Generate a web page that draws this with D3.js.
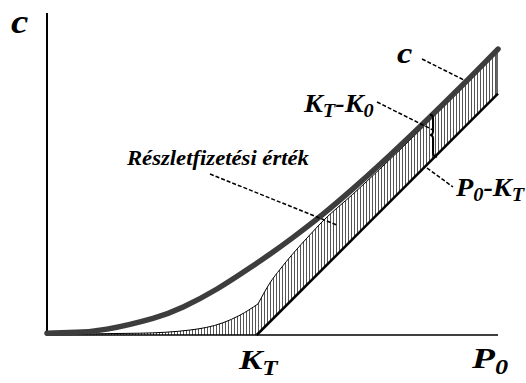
<!DOCTYPE html>
<html>
<head>
<meta charset="utf-8">
<script src="https://cdn.jsdelivr.net/npm/d3@7"></script>
<style>
  body { margin: 0; background: #fff; }
  text { font-family: "Liberation Serif", "Times New Roman", serif; font-weight: bold; font-style: italic; fill: #000; }
</style>
</head>
<body>
<div id="chart"></div>
<script>
// option value (c) against share price (P0), strike K_T
const strike = 46.5;
const priceMax = 100;

const callP = [0, 6.5, 13.3, 23.5, 30.2, 37.7, 45.0, 49.4, 54.5, 61.2, 67.8, 73.8, 82.7, 92.2, 100];
const callC = [0.4, 0.6, 1.3, 3.7, 6.2, 10.2, 14.9, 17.9, 21.6, 26.8, 32.4, 37.8, 46.2, 55.5, 63.4];

// "Részletfizetési érték" curve, with a kink at kinkIdx
const instP = [0, 20.6, 31.7, 39.0, 42.8, 46.8, 48.1, 49.4, 51.7, 54.5, 58.1, 61.2, 67.8, 73.8, 82.7, 92.2, 100];
const instV = [0.2, 0.4, 1.1, 2.7, 4.4, 6.9, 9.3, 11.5, 14.6, 18.0, 22.0, 25.3, 31.2, 36.8, 45.4, 55.1, 63.0];
const kinkIdx = 5;

const braceP = 85.6;

const width = 526, height = 383;
const x = d3.scaleLinear().domain([0, priceMax]).range([47, 498]);
const y = d3.scaleLinear().domain([0, 71.4]).range([335, 13]);

const svg = d3.select("#chart").append("svg")
  .attr("width", width)
  .attr("height", height);

const defs = svg.append("defs");
const pat = defs.append("pattern")
  .attr("id", "hatch")
  .attr("patternUnits", "userSpaceOnUse")
  .attr("width", 3).attr("height", 10);
pat.append("rect").attr("width", 3).attr("height", 10).attr("fill", "#fff");
pat.append("line")
  .attr("x1", 0.5).attr("x2", 0.5).attr("y1", 0).attr("y2", 10)
  .attr("stroke", "#555").attr("stroke-width", 1);

// clip: everything above the intrinsic value line
const clipPts = [[0, 0], [strike, 0], [priceMax, priceMax - strike], [priceMax, 71.4], [0, 71.4]];
defs.append("clipPath").attr("id", "above")
  .append("path")
  .attr("d", "M" + clipPts.map(p => [x(p[0]), y(p[1])].join(",")).join("L") + "Z");

const inst = instP.map((p, i) => [p, instV[i]]);
const instParts = [inst.slice(0, kinkIdx + 1), inst.slice(kinkIdx)];
const call = callP.map((p, i) => [p, callC[i]]);

const area = d3.area().x(d => x(d[0])).y0(y(0)).y1(d => y(d[1])).curve(d3.curveMonotoneX);
const line = d3.line().x(d => x(d[0])).y(d => y(d[1])).curve(d3.curveMonotoneX);

svg.selectAll(".band")
  .data(instParts)
  .enter().append("path")
  .attr("class", "band")
  .attr("clip-path", "url(#above)")
  .attr("fill", "url(#hatch)")
  .attr("d", area);

svg.selectAll(".inst")
  .data(instParts)
  .enter().append("path")
  .attr("class", "inst")
  .attr("fill", "none")
  .attr("stroke", "#000")
  .attr("stroke-width", 1)
  .attr("d", line);

// right edge of hatched band
svg.append("line")
  .attr("x1", x(priceMax) - 1).attr("x2", x(priceMax) - 1)
  .attr("y1", y(instV[instV.length - 1])).attr("y2", y(priceMax - strike))
  .attr("stroke", "#000").attr("stroke-width", 1.2);

// axes
svg.append("line")
  .attr("x1", x(0)).attr("x2", x(priceMax)).attr("y1", y(0)).attr("y2", y(0))
  .attr("stroke", "#000").attr("stroke-width", 1.5);
svg.append("line")
  .attr("x1", x(0)).attr("x2", x(0)).attr("y1", y(0) + 1).attr("y2", y(71.4))
  .attr("stroke", "#000").attr("stroke-width", 2);

// intrinsic value P0 - K_T
svg.append("line")
  .attr("x1", x(strike)).attr("y1", y(0))
  .attr("x2", x(priceMax)).attr("y2", y(priceMax - strike))
  .attr("stroke", "#000").attr("stroke-width", 2.5);

// option value c
svg.append("path")
  .datum(call)
  .attr("fill", "none")
  .attr("stroke", "#3d3d3d")
  .attr("stroke-width", 5.5)
  .attr("stroke-linecap", "round")
  .attr("d", d3.line().x(d => x(d[0])).y(d => y(d[1])).curve(d3.curveNatural));

// brace K_T - K_0
const bx = x(braceP);
const cAt = d3.scaleLinear().domain(callP).range(callC);
const bTop = y(cAt(braceP)) + 1, bBot = y(braceP - strike) - 2;
const bMid = bTop + (bBot - bTop) * 0.48;
svg.append("path")
  .attr("fill", "none").attr("stroke", "#000").attr("stroke-width", 2)
  .attr("d", `M${bx - 3},${bTop} Q${bx},${bTop} ${bx},${bTop + 4} L${bx},${bMid - 4}
              Q${bx},${bMid} ${bx - 3},${bMid} Q${bx},${bMid} ${bx},${bMid + 4}
              L${bx},${bBot - 4} Q${bx},${bBot} ${bx + 4},${bBot}`);

// leader lines
const leaders = [
  [[422, 59], [464, 80]],
  [[377, 102], [433, 130]],
  [[427, 168], [453, 187]],
  [[210, 174], [337, 225]]
];
svg.selectAll(".leader")
  .data(leaders)
  .enter().append("line")
  .attr("class", "leader")
  .attr("x1", d => d[0][0]).attr("y1", d => d[0][1])
  .attr("x2", d => d[1][0]).attr("y2", d => d[1][1])
  .attr("stroke", "#000").attr("stroke-width", 1.5)
  .attr("stroke-dasharray", "4,2");

// labels (glyphs in the original are a bit wider than Liberation Serif)
function label(tx, ty, size, sx) {
  return svg.append("text")
    .attr("transform", `translate(${tx},${ty}) scale(${sx},1)`)
    .style("font-size", size + "px");
}
function sub(t, txt, size, dy) {
  t.append("tspan").attr("dy", dy).style("font-size", size + "px").text(txt);
}

label(11, 33, 34, 1.15).text("c");
label(397, 63, 30, 1.15).text("c");

const kk = label(304, 112, 25, 1.13);
kk.append("tspan").text("K");
sub(kk, "T", 18, 5);
kk.append("tspan").attr("dy", -5).text("-K");
sub(kk, "0", 18, 5);

const pk = label(456, 196, 25, 1.13);
pk.append("tspan").text("P");
sub(pk, "0", 18, 5);
pk.append("tspan").attr("dy", -5).text("-K");
sub(pk, "T", 18, 5);

label(127, 165, 21, 1.08).text("Részletfizetési érték");

const kt = label(239, 369, 28, 1.25);
kt.append("tspan").text("K");
sub(kt, "T", 20, 6);

const p0 = label(472, 368, 30, 1.25);
p0.append("tspan").text("P");
sub(p0, "0", 21, 6);
</script>
</body>
</html>
